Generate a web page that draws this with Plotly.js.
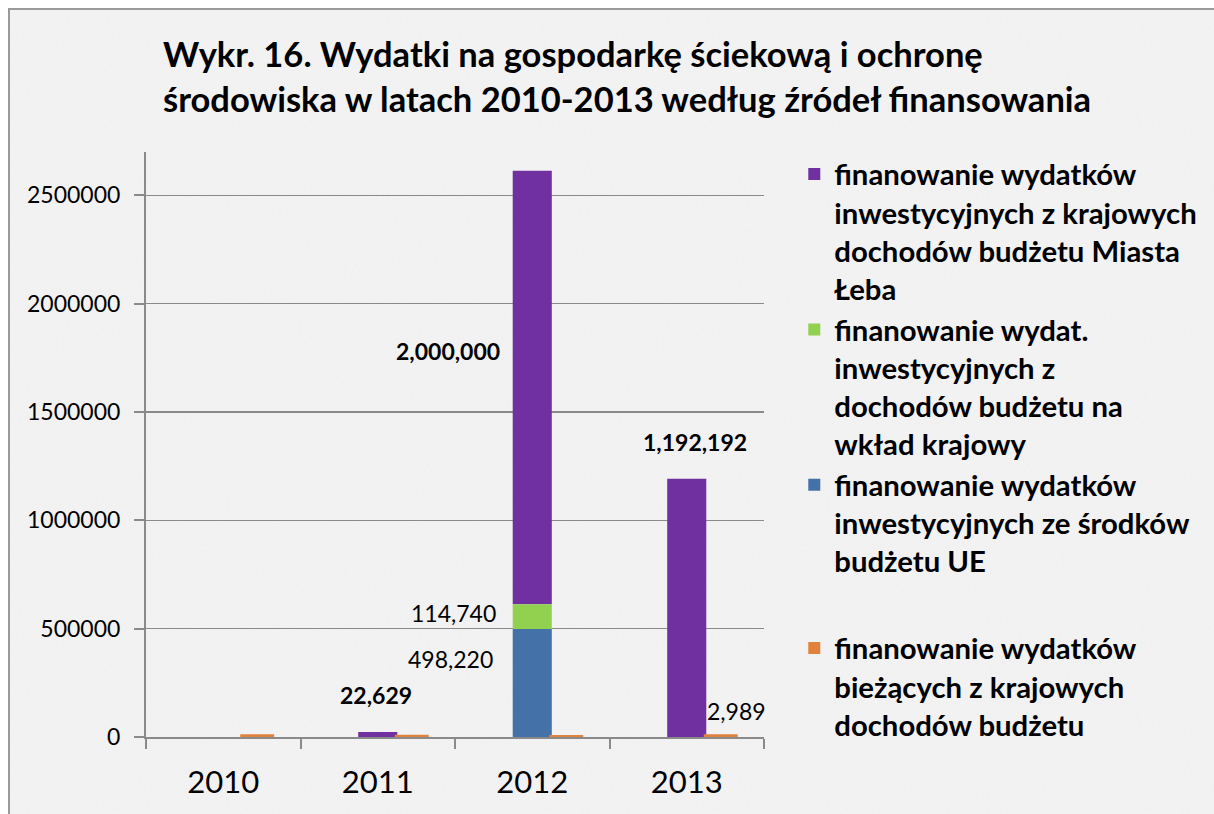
<!DOCTYPE html>
<html>
<head>
<meta charset="utf-8">
<script src="https://cdn.plot.ly/plotly-3.0.1.min.js"></script>
<style>
  html, body { margin: 0; padding: 0; background: #ffffff; overflow: hidden; }
  #frame { position: absolute; left: 8px; top: 8px; width: 1206px; height: 806px;
           border-left: 2px solid #9a9a9a; border-top: 2px solid #9a9a9a;
           background-color: #f4f4f4;
           background-image: url("data:image/svg+xml;utf8,<svg xmlns='http://www.w3.org/2000/svg' width='300' height='300'><filter id='n'><feTurbulence type='fractalNoise' baseFrequency='0.35' numOctaves='3' stitchTiles='stitch'/><feColorMatrix type='matrix' values='0 0 0 0 0.5  0 0 0 0 0.5  0 0 0 0 0.5  0 0 0 0.35 0'/></filter><rect width='300' height='300' filter='url(%23n)' opacity='0.22'/></svg>"); }
  #chart { width: 1206px; height: 806px; }
</style>
</head>
<body>
<div id="frame"><div id="chart"></div></div>
<script>
// ---- data ----
const years = ['2010', '2011', '2012', '2013'];
const seriesNames = [
  'finanowanie wydatków<br>inwestycyjnych z krajowych<br>dochodów budżetu Miasta<br>Łeba',
  'finanowanie wydat.<br>inwestycyjnych z<br>dochodów budżetu na<br>wkład krajowy',
  'finanowanie wydatków<br>inwestycyjnych ze środków<br>budżetu UE',
  'finanowanie wydatków<br>bieżących z krajowych<br>dochodów budżetu'
];
const ueFunds       = [0, 0, 498220, 0];            // blue
const wkladKrajowy  = [0, 0, 114740, 0];            // green
const krajoweMiasto = [0, 22629, 2000000, 1192192]; // purple
const biezace       = [13000, 10000, 9000, 12989];  // orange
const yTicks = [0, 500000, 1000000, 1500000, 2000000, 2500000];

// stacking bases computed from the data
const baseGreen = ueFunds.slice();
const basePurple = ueFunds.map((v, i) => v + wkladKrajowy[i]);

const colors = { purple: '#7030a0', green: '#92d050', blue: '#4472a8', orange: '#e0823c' };
const font = 'Lato, "Open Sans", sans-serif';

const stackW = 0.253, stackOff = -0.1265;
const orW = 0.22, orOff = 0.11;

const traces = [
  { type: 'bar', x: years, y: krajoweMiasto, base: basePurple, name: seriesNames[0],
    marker: { color: colors.purple }, width: stackW, offset: stackOff, legendgroup: 'a' },
  { type: 'bar', x: years, y: wkladKrajowy, base: baseGreen, name: seriesNames[1],
    marker: { color: colors.green }, width: stackW, offset: stackOff, legendgroup: 'a' },
  { type: 'bar', x: years, y: ueFunds, name: seriesNames[2],
    marker: { color: colors.blue }, width: stackW, offset: stackOff, legendgroup: 'a' },
  { type: 'bar', x: years, y: biezace, name: seriesNames[3],
    marker: { color: colors.orange }, width: orW, offset: orOff, legendgroup: 'b' }
];

// annotation x given as category index (numeric-like category names would be read as indices)
function lbl(year, y, text, bold, xanchor, xshift) {
  return { x: years.indexOf(year), y: y, xref: 'x', yref: 'y', text: bold ? '<b>' + text + '</b>' : text,
           showarrow: false, xanchor: xanchor, xshift: xshift,
           font: { family: font, size: 23, color: '#000' } };
}

const annotations = [
  lbl('2012', 1782000, '2,000,000', true, 'center', -84),
  lbl('2012', 574000, '114,740', false, 'right', -34),
  lbl('2012', 361000, '498,220', false, 'right', -37),
  lbl('2011', 194000, '22,629', true, 'center', -2),
  lbl('2013', 1361000, '1,192,192', true, 'center', 8),
  lbl('2013', 120000, '2,989', false, 'left', 18)
];

const layout = {
  width: 1206, height: 806,
  margin: { l: 136, r: 452, t: 142, b: 79 },
  paper_bgcolor: 'rgba(0,0,0,0)',
  plot_bgcolor: 'rgba(0,0,0,0)',
  barmode: 'overlay',
  title: {
    text: '<b>Wykr. 16. Wydatki na gospodarkę ściekową i ochronę<br>środowiska w latach 2010-2013 według źródeł finansowania</b>',
    xref: 'container', yref: 'container', x: 153 / 1206, xanchor: 'left',
    y: 1 - 57 / 806, yanchor: 'top',
    font: { family: font, size: 34.5, color: '#000' }
  },
  xaxis: {
    type: 'category', range: [-0.5, 3.5],
    showline: true, linecolor: '#8a8a8a', linewidth: 2,
    ticks: 'outside', tickson: 'boundaries', ticklen: 10, tickcolor: '#8a8a8a', tickwidth: 2,
    ticklabelstandoff: 17,
    tickfont: { family: font, size: 31, color: '#000' },
    showgrid: false, zeroline: false
  },
  yaxis: {
    range: [0, 2700000], tickmode: 'array', tickvals: yTicks, ticktext: yTicks.map(String),
    showline: true, linecolor: '#8a8a8a', linewidth: 2,
    ticks: 'outside', ticklen: 10, tickcolor: '#8a8a8a', tickwidth: 2,
    ticklabelstandoff: 9,
    showgrid: true, gridcolor: '#8a8a8a', gridwidth: 1.5, zeroline: false,
    tickfont: { family: font, size: 23, color: '#000' }
  },
  legend: {
    x: 1.049, xanchor: 'left', y: 1.006, yanchor: 'top',
    traceorder: 'grouped', tracegroupgap: 46, valign: 'top', maxheight: 680,
    bgcolor: 'rgba(0,0,0,0)',
    font: { family: font, size: 29.3, color: '#000', weight: 'bold' }
  },
  annotations: annotations,
  showlegend: true
};

Plotly.newPlot('chart', traces, layout, { displayModeBar: false, staticPlot: true });
</script>
</body>
</html>
